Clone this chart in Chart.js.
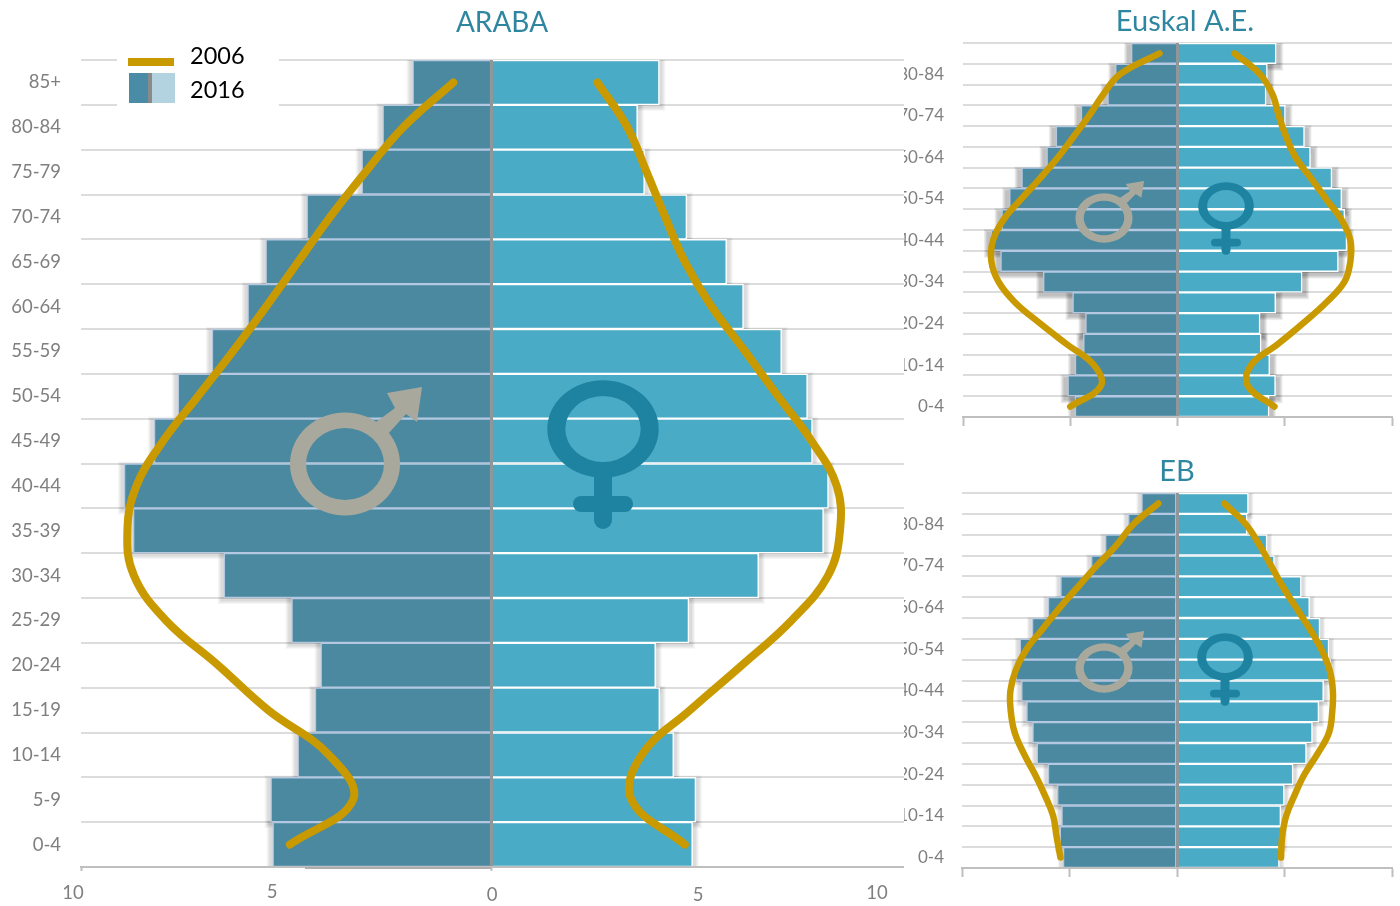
<!DOCTYPE html>
<html>
<head>
<meta charset="utf-8">
<title>Piramideak</title>
<script src="https://cdn.jsdelivr.net/npm/chart.js@4"></script>
<style>
  html, body { margin: 0; padding: 0; background: #fff; overflow: hidden; }
  canvas { position: absolute; display: block; }
  #arabaChart { left: 0; top: 0; background: #fff; z-index: 2; }
  #euskalChart { left: 890px; top: 0; z-index: 1; }
  #ebChart { left: 890px; top: 450px; z-index: 1; }
</style>
</head>
<body>
<canvas id="arabaChart" width="904" height="906"></canvas>
<canvas id="euskalChart" width="510" height="456"></canvas>
<canvas id="ebChart" width="510" height="456"></canvas>
<script>
const ageGroups = ['85+', '80-84', '75-79', '70-74', '65-69', '60-64', '55-59', '50-54', '45-49',
    '40-44', '35-39', '30-34', '25-29', '20-24', '15-19', '10-14', '5-9', '0-4'];
const xTickLabels = ['10', '5', '0', '5', '10'];

const arabaMale2016 = [1.92, 2.65, 3.16, 4.5, 5.5, 5.94, 6.81, 7.64, 8.22, 8.95, 8.73, 6.52, 4.87, 4.16, 4.3, 4.72, 5.38, 5.33];
const arabaFemale2016 = [4.09, 3.56, 3.73, 4.76, 5.73, 6.14, 7.07, 7.7, 7.82, 8.21, 8.09, 6.51, 4.81, 4.0, 4.1, 4.44, 4.98, 4.9];
const arabaMale2006 = [0.93, 2.15, 3.07, 3.93, 4.71, 5.49, 6.3, 7.15, 8.0, 8.65, 8.87, 8.71, 7.93, 6.66, 5.44, 3.96, 3.37, 4.91];
const arabaFemale2006 = [2.58, 3.31, 3.78, 4.23, 4.71, 5.36, 6.18, 6.98, 7.8, 8.41, 8.49, 8.2, 7.31, 6.1, 4.84, 3.66, 3.41, 4.71];

const euskalMale2016 = [2.16, 2.9, 3.26, 4.5, 5.67, 6.1, 7.27, 7.84, 8.2, 8.7, 8.25, 6.26, 4.89, 4.29, 4.39, 4.78, 5.12, 4.78];
const euskalFemale2016 = [4.6, 4.19, 4.13, 5.03, 5.92, 6.2, 7.2, 7.66, 7.8, 7.9, 7.5, 5.81, 4.58, 3.85, 3.9, 4.3, 4.57, 4.27];
const euskalMale2006 = [0.84, 2.67, 3.48, 4.12, 4.84, 5.57, 6.4, 7.28, 8.11, 8.6, 8.68, 8.34, 7.56, 6.4, 5.16, 3.9, 3.57, 5.0];
const euskalFemale2006 = [2.66, 3.84, 4.44, 4.72, 5.06, 5.5, 6.22, 6.92, 7.64, 8.06, 8.06, 7.78, 6.92, 5.84, 4.67, 3.43, 3.28, 4.52];

const ebMale2016 = [1.65, 2.27, 3.34, 3.99, 5.42, 6.0, 6.74, 7.31, 7.5, 7.24, 7.0, 6.72, 6.52, 6.0, 5.57, 5.37, 5.45, 5.3];
const ebFemale2016 = [3.32, 3.26, 4.19, 4.53, 5.78, 6.17, 6.65, 7.07, 7.15, 6.82, 6.6, 6.3, 6.02, 5.4, 4.99, 4.83, 4.9, 4.76];
const ebMale2006 = [0.87, 2.03, 2.81, 3.74, 4.6, 5.45, 6.23, 7.0, 7.5, 7.75, 7.73, 7.55, 7.13, 6.61, 6.15, 5.76, 5.6, 5.42];
const ebFemale2006 = [2.2, 3.2, 3.84, 4.38, 4.92, 5.54, 6.16, 6.71, 7.1, 7.25, 7.22, 7.07, 6.55, 5.93, 5.47, 5.08, 4.89, 4.84];

const maleColor = '#4A89A0';
const femaleColor = '#4AABC6';
const lineColor = '#C99A00';
const titleColor = '#2F86A0';
const tickColor = '#7F7F7F';
const gridColor = '#DCDCDC';
const fontFamily = 'Lato, "Open Sans", sans-serif';

function negative(values) {
    return values.map(v => -v);
}

// gender signs, drawn in the size of the big chart and scaled down for the small ones
function drawMaleSign(ctx, cx, cy, sx, sy) {
    ctx.save();
    ctx.translate(cx, cy);
    ctx.scale(sx, sy);
    ctx.fillStyle = '#A9A89C';
    ctx.beginPath();
    ctx.ellipse(0, 0, 55, 51.5, 0, 0, Math.PI * 2);
    ctx.ellipse(0, 0, 39, 36, 0, 0, Math.PI * 2, true);
    ctx.fill();
    ctx.beginPath();
    ctx.moveTo(31, -42);
    ctx.lineTo(50, -56);
    ctx.lineTo(42, -71);
    ctx.lineTo(77, -77);
    ctx.lineTo(72, -42);
    ctx.lineTo(61, -50);
    ctx.lineTo(43, -30);
    ctx.closePath();
    ctx.fill();
    ctx.restore();
}

function drawFemaleSign(ctx, cx, cy, sx, sy) {
    ctx.save();
    ctx.translate(cx, cy);
    ctx.scale(sx, sy);
    ctx.fillStyle = '#1E83A0';
    ctx.beginPath();
    ctx.ellipse(0, 0, 55.7, 48.7, 0, 0, Math.PI * 2);
    ctx.ellipse(0, 0, 37.7, 33, 0, 0, Math.PI * 2, true);
    ctx.fill();
    ctx.strokeStyle = '#1E83A0';
    ctx.lineCap = 'round';
    ctx.lineWidth = 18;
    ctx.beginPath();
    ctx.moveTo(0, 46);
    ctx.lineTo(0, 91);
    ctx.stroke();
    ctx.lineWidth = 16;
    ctx.beginPath();
    ctx.moveTo(-22, 75);
    ctx.lineTo(22, 75);
    ctx.stroke();
    ctx.restore();
}

// soft shadow under the bars, built from stacked see-through rectangles
function drawBarShadows(chart, shadow) {
    const ctx = chart.ctx;
    const area = chart.chartArea;
    ctx.save();
    ctx.beginPath();
    ctx.rect(area.left, area.top, area.right - area.left, area.bottom - area.top);
    ctx.clip();
    [0, 1].forEach(index => {
        const dx = index === 0 ? -shadow.offset : shadow.offset;
        chart.getDatasetMeta(index).data.forEach(bar => {
            const left = Math.min(bar.x, bar.base);
            const top = bar.y - bar.height / 2;
            const width = Math.abs(bar.x - bar.base);
            for (let s = shadow.spread; s > 0; s--) {
                ctx.fillStyle = 'rgba(0,0,0,' + shadow.alpha + ')';
                ctx.fillRect(left + dx - s, top + shadow.offset - s, width + 2 * s, bar.height + 2 * s);
            }
        });
    });
    ctx.restore();
}

function makePyramid(id, male, female, male2006, female2006, opts) {
    const overlay = {
        id: 'overlay',
        beforeDatasetsDraw(chart) {
            drawBarShadows(chart, opts.shadow);
        },
        afterDraw(chart) {
            const ctx = chart.ctx;
            drawMaleSign(ctx, opts.maleSign[0], opts.maleSign[1], opts.maleSign[2], opts.maleSign[3]);
            drawFemaleSign(ctx, opts.femaleSign[0], opts.femaleSign[1], opts.femaleSign[2], opts.femaleSign[3]);
            ctx.save();
            ctx.textAlign = 'center';
            ctx.textBaseline = 'middle';
            ctx.fillStyle = titleColor;
            ctx.font = opts.titleSize + 'px ' + fontFamily;
            ctx.fillText(opts.title, opts.titleX, opts.titleY);
            if (opts.xLabels) {
                ctx.fillStyle = tickColor;
                ctx.font = '18.5px ' + fontFamily;
                xTickLabels.forEach((t, i) => ctx.fillText(t, opts.xLabels[i][0], opts.xLabels[i][1]));
            }
            ctx.restore();
            if (opts.legend) drawLegend(ctx);
        }
    };

    return new Chart(document.getElementById(id), {
        type: 'bar',
        data: {
            labels: ageGroups,
            datasets: [
                { label: 'Gizonak 2016', data: negative(male), backgroundColor: maleColor, borderColor: '#B5C8E2', borderWidth: 1.5, borderSkipped: 'start', order: 2 },
                { label: 'Emakumeak 2016', data: female, backgroundColor: femaleColor, borderColor: '#FFFFFF', borderWidth: 1.5, borderSkipped: 'start', order: 2 },
                { type: 'line', label: 'Gizonak 2006', data: negative(male2006), borderColor: lineColor, borderWidth: opts.lineWidth, borderCapStyle: 'round', tension: 0.4, pointRadius: 0, order: 1 },
                { type: 'line', label: 'Emakumeak 2006', data: female2006, borderColor: lineColor, borderWidth: opts.lineWidth, borderCapStyle: 'round', tension: 0.4, pointRadius: 0, order: 1 }
            ]
        },
        options: {
            indexAxis: 'y',
            responsive: false,
            animation: false,
            layout: { padding: opts.padding },
            datasets: { bar: { grouped: false, barPercentage: 1, categoryPercentage: 1 } },
            plugins: { legend: { display: false }, title: { display: false }, tooltip: { enabled: false } },
            scales: {
                x: {
                    min: -10,
                    max: opts.xMax,
                    ticks: { display: false, stepSize: 5 },
                    afterFit(scale) { scale.height = opts.tickLength; },
                    afterBuildTicks(scale) { scale.ticks = opts.tickValues.map(v => ({ value: v })); },
                    border: { color: '#BFBFBF', width: 2, z: 1 },
                    grid: {
                        z: 1,
                        tickLength: opts.tickLength,
                        color: ctx => ctx.tick.value === 0 ? '#8F979A' : 'rgba(0,0,0,0)',
                        lineWidth: ctx => ctx.tick.value === 0 ? 3 : 1,
                        tickColor: '#BFBFBF',
                        tickWidth: 2
                    }
                },
                y: {
                    afterFit(scale) { scale.width = opts.yWidth; },
                    border: { display: false },
                    grid: { color: gridColor, lineWidth: 2, drawTicks: false },
                    ticks: {
                        color: tickColor,
                        padding: opts.labelPadding,
                        autoSkip: false,
                        maxRotation: 0,
                        font: { family: fontFamily, size: opts.labelSize },
                        callback(value, index) {
                            if (opts.everyOther && index % 2 === 0) return '';
                            return ageGroups[index];
                        }
                    }
                }
            }
        },
        plugins: [overlay]
    });
}

function drawLegend(ctx) {
    ctx.save();
    ctx.fillStyle = '#AEAEAE';
    ctx.fillRect(305, 867, 186, 2);
    ctx.fillStyle = '#FFFFFF';
    ctx.fillRect(117, 55, 162, 52);
    ctx.fillStyle = lineColor;
    ctx.fillRect(128, 58, 46, 8);
    ctx.fillStyle = '#4A8CA6';
    ctx.fillRect(129, 73, 19, 30);
    ctx.fillStyle = '#8A8A8A';
    ctx.fillRect(148, 73, 4, 30);
    ctx.fillStyle = '#B3D3E0';
    ctx.fillRect(152, 73, 23, 30);
    ctx.fillStyle = '#000000';
    ctx.font = '23.5px ' + fontFamily;
    ctx.textAlign = 'left';
    ctx.textBaseline = 'middle';
    ctx.fillText('2006', 190, 56);
    ctx.fillText('2016', 190, 90);
    ctx.restore();
}

makePyramid('euskalChart', euskalMale2016, euskalFemale2016, euskalMale2006, euskalFemale2006, {
    title: 'Euskal A.E.', titleX: 295, titleY: 22, titleSize: 29,
    padding: { top: 43, right: 8, bottom: 30, left: 0 },
    yWidth: 73, xMax: 10, tickLength: 9, tickValues: [-10, -5, 0, 5, 10], labelPadding: 19, labelSize: 17, lineWidth: 6.5, everyOther: true,
    shadow: { alpha: 0.07, spread: 4, offset: 3 },
    maleSign: [214, 218, 0.52, 0.48], femaleSign: [336, 206, 0.5, 0.487]
});

makePyramid('ebChart', ebMale2016, ebFemale2016, ebMale2006, ebFemale2006, {
    title: 'EB', titleX: 287, titleY: 22, titleSize: 29,
    padding: { top: 43, right: 8, bottom: 29, left: 0 },
    yWidth: 72, xMax: 10, tickLength: 9, tickValues: [-10, -5, 0, 5, 10], labelPadding: 18, labelSize: 17, lineWidth: 6.5, everyOther: true,
    shadow: { alpha: 0.05, spread: 3, offset: 2 },
    maleSign: [214, 218, 0.52, 0.48], femaleSign: [335, 207, 0.5, 0.487]
});

makePyramid('arabaChart', arabaMale2016, arabaFemale2016, arabaMale2006, arabaFemale2006, {
    title: 'ARABA', titleX: 502, titleY: 23, titleSize: 28,
    padding: { top: 60, right: 0, bottom: 35, left: 0 },
    yWidth: 81, xMax: 10.05, tickLength: 4, tickValues: [-10, 0], labelPadding: 20, labelSize: 18.5, lineWidth: 8, everyOther: false,
    shadow: { alpha: 0.04, spread: 4, offset: 2 },
    maleSign: [345, 464, 1, 1], femaleSign: [603, 429, 1, 1],
    xLabels: [[73, 893], [272, 892], [492, 895], [698, 895], [877, 893]],
    legend: true
});
</script>
</body>
</html>
